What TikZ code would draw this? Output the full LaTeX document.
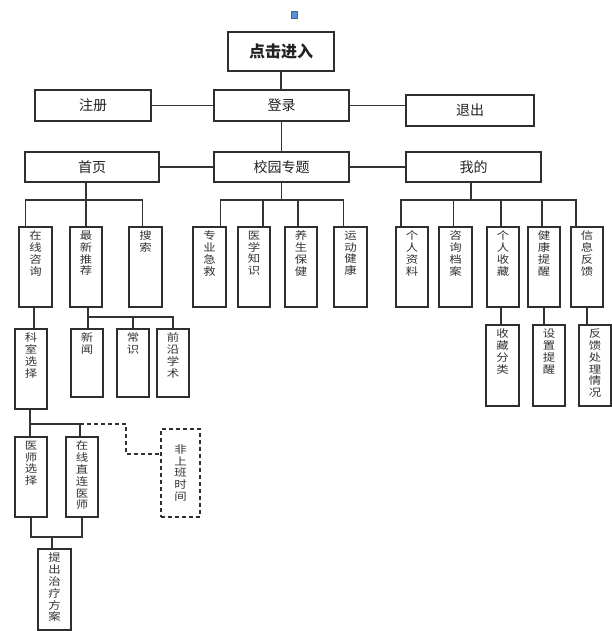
\documentclass[tikz,border=0pt]{standalone}
\usepackage{fontspec}
\setmainfont{Noto Sans CJK SC}
\newfontfamily\vfont[FakeStretch=1.18]{Noto Sans CJK SC}
\usetikzlibrary{calc}
\definecolor{boxc}{HTML}{2E2E2E}
\definecolor{linec}{HTML}{333333}
\definecolor{txtc}{HTML}{222222}
\definecolor{vtxtc}{HTML}{333333}
\definecolor{bluesq}{HTML}{5B8DD9}
\newcommand{\vcol}[3]{\parbox[c][#2pt][t]{#1pt}{\centering\vspace*{4pt}#3}}
\newcommand{\vcolc}[3]{\parbox[c][#2pt][c]{#1pt}{\centering #3}}
\tikzset{
  hb/.style={draw=boxc, line width=1.6pt, fill=white, inner sep=0pt, text=txtc,
    minimum height=31pt, font=\fontsize{14}{16}\selectfont},
  vb/.style={draw=boxc, line width=1.6pt, fill=white, inner sep=0pt, text=vtxtc,
    font=\vfont\fontsize{10.5}{11.8}\selectfont},
  conn/.style={draw=linec, line width=1.8pt},
  dconn/.style={draw=linec, line width=1.6pt, dash pattern=on 4pt off 3pt}
}
\begin{document}
\begin{tikzpicture}[x=1pt,y=-1pt]
\useasboundingbox (0,0) rectangle (612,631);
% small blue marker
\draw[draw=bluesq!70!black, fill=bluesq, line width=0.5pt] (291.5,11) rectangle (297.5,18);

% top levels
\node[hb, minimum width=106pt, minimum height=39pt, font=\fontsize{16}{18}\selectfont\bfseries] (enter) at (281,51.5) {点击进入};
\node[hb, minimum width=116pt] (reg) at (93,105.5) {注册};
\node[hb, minimum width=135pt] (login) at (281.5,105.5) {登录};
\node[hb, minimum width=128pt] (quit) at (470,110.5) {退出};
\node[hb, minimum width=134pt, minimum height=30pt] (home) at (92,167) {首页};
\node[hb, minimum width=135pt, minimum height=30pt] (campus) at (281.5,167) {校园专题};
\node[hb, minimum width=135pt, minimum height=30pt] (mine) at (473.5,167) {我的};

% third row
\node[vb] (zx) at (35.5,267) {\vcol{33}{80}{在\\线\\咨\\询}};
\node[vb] (zt) at (86,267) {\vcol{32}{80}{最\\新\\推\\荐}};
\node[vb] (ss) at (145.5,267) {\vcol{33}{80}{搜\\索}};
\node[vb] (zy) at (209.5,267) {\vcol{33}{80}{专\\业\\急\\救}};
\node[vb] (yx) at (254,267) {\vcol{32}{80}{医\\学\\知\\识}};
\node[vb] (ys) at (301,267) {\vcol{32}{80}{养\\生\\保\\健}};
\node[vb] (yd) at (350.5,267) {\vcol{33}{80}{运\\动\\健\\康}};
\node[vb] (gr) at (412,267) {\vcol{32}{80}{个\\人\\资\\料}};
\node[vb] (zd) at (455.5,267) {\vcol{33}{80}{咨\\询\\档\\案}};
\node[vb] (sc) at (503,267) {\vcol{32}{80}{个\\人\\收\\藏}};
\node[vb] (jt) at (544,267) {\vcol{32}{80}{健\\康\\提\\醒}};
\node[vb] (xf) at (587,267) {\vcol{32}{80}{信\\息\\反\\馈}};

% fourth row
\node[vb] (ks) at (31,369) {\vcol{32}{80}{科\\室\\选\\择}};
\node[vb] (xw) at (87,363) {\vcol{32}{68}{新\\闻}};
\node[vb] (cs) at (133,363) {\vcol{32}{68}{常\\识}};
\node[vb] (qy) at (173,363) {\vcol{32}{68}{前\\沿\\学\\术}};
\node[vb] (fl) at (502.5,365.5) {\vcol{33}{81}{收\\藏\\分\\类}};
\node[vb] (sz) at (549,365.5) {\vcol{32}{81}{设\\置\\提\\醒}};
\node[vb] (fk) at (595,365.5) {\vcol{32}{81}{反\\馈\\处\\理\\情\\况}};

% fifth row
\node[vb] (ysx) at (31,477) {\vcol{32}{80}{医\\师\\选\\择}};
\node[vb] (zl) at (82,477) {\vcol{32}{80}{在\\线\\直\\连\\医\\师}};
\node[vb, dash pattern=on 4pt off 3pt] (fs) at (180.5,473) {\vcolc{39}{88}{非\\上\\班\\时\\间}};

% sixth row
\node[vb] (tc) at (54.5,589.5) {\vcol{33}{81}{提\\出\\治\\疗\\方\\案}};

% bus coordinates
\coordinate (b1) at (0,200);
\coordinate (b3) at (0,317);
\coordinate (b4) at (0,424);
\coordinate (b5) at (0,537);

% top connectors
\draw[conn] (enter.south) -- (enter.south |- login.north);
\draw[conn] (reg.east) -- (login.west);
\draw[conn] (login.east) -- (login.east -| quit.west);
\draw[conn] (login.south) -- (login.south |- campus.north);
\draw[conn] (home.east) -- (campus.west);
\draw[conn] (campus.east) -- (mine.west);

% home tree
\draw[conn] ([xshift=-10pt]zx.north) |- ([xshift=-3pt]ss.north |- b1) -- ([xshift=-3pt]ss.north);
\draw[conn] (home.south -| zt.north) -- (zt.north);

% campus tree
\draw[conn] ([xshift=11pt]zy.north) |- ([xshift=-7pt]yd.north |- b1) -- ([xshift=-7pt]yd.north);
\draw[conn] ([xshift=9pt]yx.north) -- ([xshift=9pt]yx.north |- b1);
\draw[conn] ([xshift=-3pt]ys.north) -- ([xshift=-3pt]ys.north |- b1);
\draw[conn] (campus.south) -- (campus.south |- b1);

% mine tree
\draw[conn] ([xshift=-11pt]gr.north) |- ([xshift=-11pt]xf.north |- b1) -- ([xshift=-11pt]xf.north);
\draw[conn] ([xshift=-2pt]zd.north) -- ([xshift=-2pt]zd.north |- b1);
\draw[conn] ([xshift=-2pt]sc.north) -- ([xshift=-2pt]sc.north |- b1);
\draw[conn] ([xshift=-2pt]jt.north) -- ([xshift=-2pt]jt.north |- b1);
\draw[conn] ([xshift=-2.5pt]mine.south) -- ([xshift=-2.5pt]mine.south |- b1);

% fourth-level connectors
\draw[conn] ([xshift=-1.5pt]zx.south) -- ([xshift=-1.5pt]zx.south |- ks.north);
\draw[conn] ([xshift=1pt]xw.north) |- (qy.north |- b3) -- (qy.north);
\draw[conn] (cs.north) -- (cs.north |- b3);
\draw[conn] ([xshift=2pt]zt.south) -- ([xshift=2pt]zt.south |- b3);
\draw[conn] ([xshift=-2pt]sc.south) -- ([xshift=-2pt]sc.south |- fl.north);
\draw[conn] (jt.south) -- (jt.south |- sz.north);
\draw[conn] (xf.south) -- (xf.south |- fk.north);

% fifth-level connectors
\draw[conn] ([xshift=-1pt]ks.south) -- ([xshift=-1pt]ks.south |- b4);
\draw[conn] ([xshift=-1pt]ysx.north) |- ([xshift=-2pt]zl.north |- b4) -- ([xshift=-2pt]zl.north);
\draw[dconn] ([xshift=-2pt]zl.north |- b4) -- ++(46,0) |- ([yshift=19pt]fs.west);

% sixth-level connectors
\draw[conn] (ysx.south) |- (zl.south |- b5) -- (zl.south);
\draw[conn] ([xshift=-2.5pt]tc.north) -- ([xshift=-2.5pt]tc.north |- b5);
\end{tikzpicture}
\end{document}
